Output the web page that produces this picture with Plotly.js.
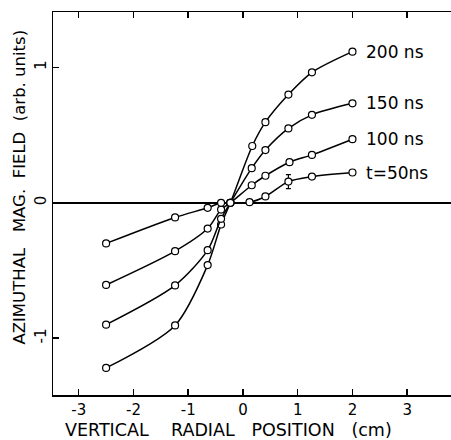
<!DOCTYPE html>
<html><head><meta charset="utf-8">
<script src="https://cdn.plot.ly/plotly-3.0.1.min.js"></script>
<style>html,body{margin:0;padding:0;background:#fff}#chart{width:451px;height:440px}</style>
</head><body><div id="chart"></div>
<script>
// Vertical radial position (cm) and azimuthal magnetic field (arb. units)
const x200 = [-2.5, -1.24, -0.645, -0.40, -0.23, 0.17, 0.41, 0.83, 1.26, 2.0];
const y200 = [-1.22, -0.906, -0.46, -0.16, 0.0, 0.42, 0.596, 0.80, 0.964, 1.117];
const x150 = [-2.5, -1.24, -0.645, -0.40, -0.23, 0.16, 0.41, 0.83, 1.26, 2.0];
const y150 = [-0.90, -0.61, -0.35, -0.118, 0.0, 0.256, 0.39, 0.55, 0.65, 0.735];
const x100 = [-2.5, -1.24, -0.645, -0.40, -0.23, 0.16, 0.41, 0.85, 1.26, 2.0];
const y100 = [-0.607, -0.357, -0.19, -0.05, 0.0, 0.13, 0.20, 0.30, 0.354, 0.47];
const x50 = [-2.5, -1.24, -0.645, -0.40, -0.23, 0.12, 0.41, 0.83, 1.26, 2.0];
const y50 = [-0.30, -0.108, -0.037, 0.0, 0.0, 0.005, 0.047, 0.157, 0.194, 0.224];
const err50 = [0, 0, 0, 0, 0, 0, 0, 0.052, 0, 0];
const seriesLabels = ["200 ns", "150 ns", "100 ns", "t=50ns"];
const xTicks = [-3, -2, -1, 0, 1, 2, 3];
const xTickText = ["-3", "-2", "-1", "0", "1", "2", "3"];
const yTicks = [-1, 0, 1];
const yTickText = ["-1", "0", "1"];
const xTitle = "VERTICAL\u00A0\u00A0\u00A0\u00A0RADIAL\u00A0\u00A0\u00A0POSITION\u00A0\u00A0\u00A0(cm)";
const yTitle = "AZIMUTHAL\u00A0\u00A0\u00A0MAG.\u00A0\u00A0FIELD\u00A0\u00A0(arb. units)";

const FONT = "DejaVu Sans, sans-serif";
function tr(x, y, err) {
  const t = {
    x: x, y: y, type: 'scatter', mode: 'lines+markers',
    line: {color: '#000', width: 1.5, shape: 'spline', smoothing: 0.8},
    marker: {symbol: 'circle', size: 7, color: '#fff', line: {color: '#000', width: 1.2}},
    showlegend: false, hoverinfo: 'none', cliponaxis: false
  };
  if (err) t.error_y = {type: 'data', array: err, visible: true, color: '#000', thickness: 1.2, width: 2.5};
  return t;
}
const data = [tr(x200, y200), tr(x150, y150), tr(x100, y100), tr(x50, y50, err50)];
const lastY = [y200[y200.length-1], y150[y150.length-1], y100[y100.length-1], y50[y50.length-1]];
const annotations = seriesLabels.map((s, i) => ({
  x: 2.21, y: lastY[i], xref: 'x', yref: 'y', text: s, showarrow: false,
  xanchor: 'left', yanchor: 'middle', font: {family: FONT, size: 17, color: '#000'}
}));
annotations.push({
  xref: 'paper', yref: 'paper', x: -0.085, y: 0.542, text: yTitle,
  showarrow: false, textangle: -90, xanchor: 'center', yanchor: 'middle',
  font: {family: FONT, size: 16.5, color: '#000'}
});
annotations.push({
  xref: 'paper', yref: 'paper', x: 0.441, y: -0.0905, text: xTitle,
  showarrow: false, xanchor: 'center', yanchor: 'middle', borderpad: 0,
  font: {family: FONT, size: 17.5, color: '#000'}
});
const layout = {
  width: 451, height: 440,
  margin: {l: 53, r: 0, t: 12, b: 45},
  paper_bgcolor: '#fff', plot_bgcolor: '#fff',
  font: {family: FONT, color: '#000'},
  xaxis: {
    range: [-3.47, 3.80], tickvals: xTicks, ticktext: xTickText,
    showline: true, linecolor: '#000', linewidth: 1.5, mirror: 'ticks',
    ticks: 'inside', ticklen: 6, tickwidth: 1.5, tickcolor: '#000',
    showgrid: false, zeroline: false, tickfont: {family: FONT, size: 15},
    automargin: false
  },
  yaxis: {
    range: [-1.42, 1.41], tickvals: yTicks, ticktext: yTickText,
    showline: true, linecolor: '#000', linewidth: 1.5, mirror: false,
    ticks: 'inside', ticklen: 6, tickwidth: 1.5, tickcolor: '#000', tickangle: -90,
    showgrid: false, zeroline: true, zerolinecolor: '#000', zerolinewidth: 1.5,
    tickfont: {family: FONT, size: 15}, automargin: false
  },
  annotations: annotations
};
Plotly.newPlot('chart', data, layout, {staticPlot: true});
</script></body></html>
